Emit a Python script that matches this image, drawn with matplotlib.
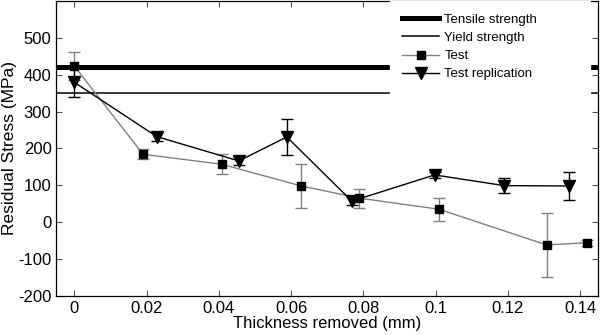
import matplotlib
matplotlib.use('Agg')
import matplotlib.pyplot as plt
from matplotlib.lines import Line2D

plt.rcParams['font.family'] = ['Liberation Sans', 'DejaVu Sans']
plt.rcParams['axes.unicode_minus'] = False

# Test
x_test = [0, 0.019, 0.0408, 0.0628, 0.0789, 0.1009, 0.1307, 0.1418]
y_test = [423, 184, 157, 98, 65, 35, -62, -56]
e_test = [38, 14, 27, 60, 26, 31, 86, 8]

# Test replication
x_rep = [0, 0.0228, 0.0455, 0.0588, 0.0768, 0.0997, 0.119, 0.1369]
y_rep = [379, 232, 166, 231, 57, 128, 99, 98]
e_rep = [40, 12, 10, 48, 10, 8, 20, 39]

tensile = 420
yield_s = 350

fig = plt.figure(figsize=(6, 3.35), dpi=100)
ax = fig.add_axes([0.094, 0.117, 0.903, 0.88])

ax.axhline(tensile, color='black', lw=3.6, zorder=1)
ax.axhline(yield_s, color='black', lw=1.1, zorder=1)

ax.errorbar(x_test, y_test, yerr=e_test, color='#808080', lw=1, marker='s',
            mfc='black', mec='black', ms=6, ecolor='#808080', elinewidth=1,
            capsize=4, capthick=1, zorder=3)
ax.errorbar(x_rep, y_rep, yerr=e_rep, color='black', lw=1, marker='v',
            mfc='black', mec='black', ms=8.5, ecolor='black', elinewidth=1,
            capsize=4, capthick=1, zorder=4)

ax.set_xlim(-0.005, 0.145)
ax.set_ylim(-200, 600)
ax.set_xticks([0, 0.02, 0.04, 0.06, 0.08, 0.1, 0.12, 0.14])
ax.set_xticklabels(['0', '0.02', '0.04', '0.06', '0.08', '0.1', '0.12', '0.14'])
ax.set_yticks([-200, -100, 0, 100, 200, 300, 400, 500])
ax.tick_params(direction='in', top=True, right=True, labelsize=12, length=4,
               width=0.8, color='#555555')
for s in ax.spines.values():
    s.set_linewidth(0.9)
ax.set_xlabel('Thickness removed (mm)', fontsize=12, labelpad=0)
ax.set_ylabel('Residual Stress (MPa)', fontsize=12.5)
ax.yaxis.set_label_coords(-0.072, 0.5)

handles = [
    Line2D([], [], color='black', lw=3.6),
    Line2D([], [], color='black', lw=1.1),
    Line2D([], [], color='#808080', lw=1, marker='s', mfc='black', mec='black', ms=6),
    Line2D([], [], color='black', lw=1, marker='v', mfc='black', mec='black', ms=8.5),
]
labels = ['Tensile strength', 'Yield strength', 'Test', 'Test replication']
leg = ax.legend(handles, labels, loc='upper left', bbox_to_anchor=(0.615, 1.0, 0.369, 0.0),
                mode='expand', borderaxespad=0, borderpad=0.95, fontsize=9.5,
                handlelength=2.8, handletextpad=0.4, labelspacing=0.45,
                frameon=True, fancybox=False)
leg.get_frame().set_edgecolor('white')
leg.get_frame().set_facecolor('white')
leg.get_frame().set_alpha(1)
leg.set_zorder(5)

fig.savefig('out.png', dpi=100)
